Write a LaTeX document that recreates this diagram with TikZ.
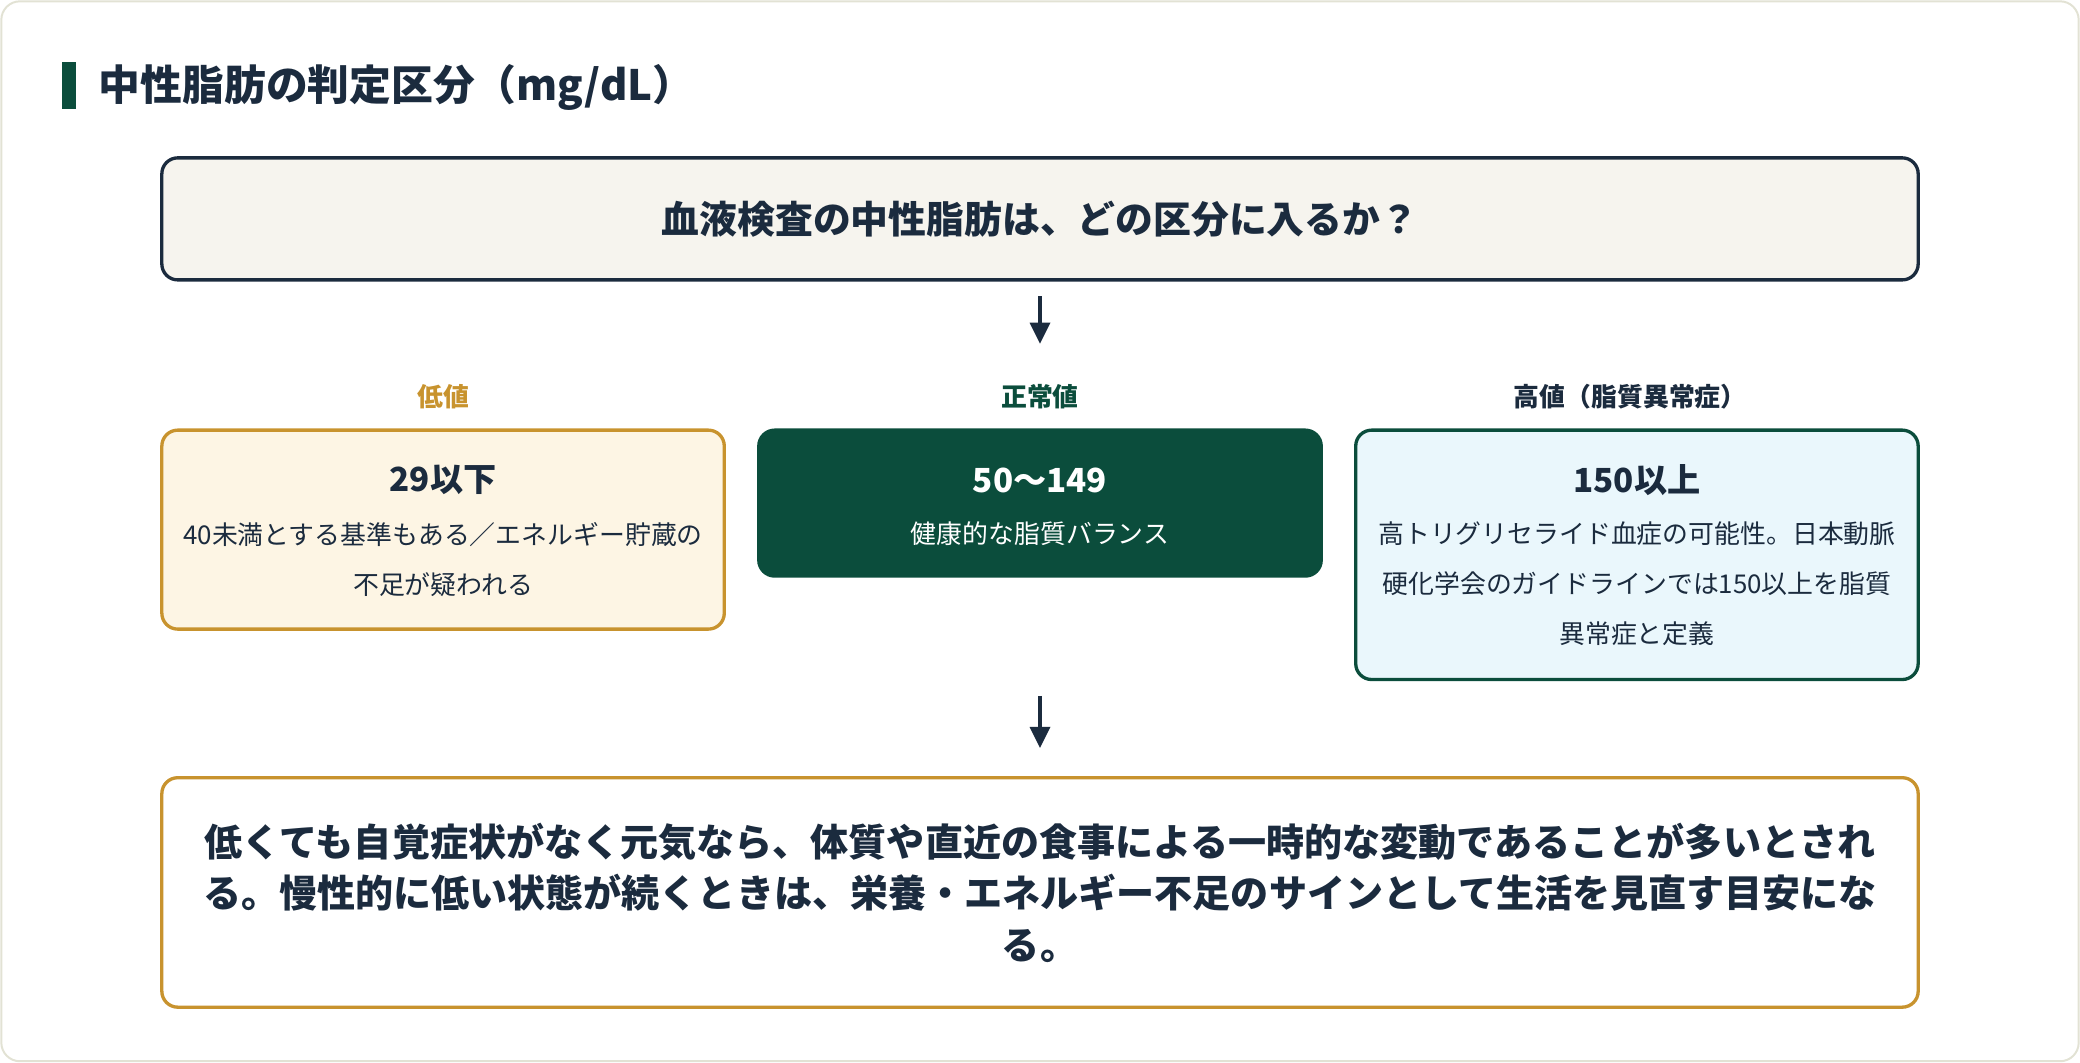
\documentclass[tikz,border=0pt]{standalone}
\usepackage{fontspec}
\setmainfont{Noto Sans CJK JP}
\usetikzlibrary{arrows.meta}

\definecolor{navy}{HTML}{1B2B3E}
\definecolor{dgreen}{HTML}{0B4D3C}
\definecolor{gold}{HTML}{C8932E}
\definecolor{cream}{HTML}{F6F4EE}
\definecolor{paleyel}{HTML}{FDF5E4}
\definecolor{paleblue}{HTML}{EAF7FC}
\definecolor{frame}{HTML}{E2E2D4}

\tikzset{
  box/.style={draw, line width=2.5pt, rounded corners=12pt, inner sep=0pt},
  lbl/.style={font=\bfseries\fontsize{19.5}{22}\selectfont},
  head/.style={font=\bfseries\fontsize{25}{28}\selectfont},
  body/.style={font=\fontsize{19.5}{37.5}\selectfont, align=center},
  arr/.style={navy, line width=2.8pt, -{Triangle[length=16pt,width=15pt]}}
}

\begin{document}
\begin{tikzpicture}[x=1pt,y=-1pt]

\useasboundingbox (0,0) rectangle (1568,801);
\draw[frame, line width=1.5pt, rounded corners=14pt] (1,1) rectangle (1567,800);

% title
\fill[dgreen] (47,47) rectangle (57,82);
\node[anchor=west, navy, font=\bfseries\fontsize{31.5}{34}\selectfont] (title) at (71,66) {中性脂肪の判定区分（mg/dL）};

% question
\node[box, navy, fill=cream, minimum width=1324pt, minimum height=92pt] (q) at (784,165)
  {\bfseries\fontsize{28.5}{32}\selectfont 血液検査の中性脂肪は、どの区分に入るか？};

% column labels
\node[lbl, gold] (llow) at (334,299) {低値};
\node[lbl, dgreen] (lmid) at (784,299) {正常値};
\node[lbl, navy] (lhigh) at (1229,299) {高値（脂質異常症）};

% three boxes
\node[box, gold, fill=paleyel, minimum width=424pt, minimum height=150pt, anchor=north] (low) at (334,323) {};
\node[head, navy] at (334,362) {29以下};
\node[body, navy] at (334,422) {40未満とする基準もある／エネルギー貯蔵の\\不足が疑われる};

\node[box, dgreen, fill=dgreen, minimum width=424pt, minimum height=110pt, anchor=north] (mid) at (784,323) {};
\node[head, white] at (784,362) {50〜149};
\node[body, white] at (784,402) {健康的な脂質バランス};

\node[box, dgreen, fill=paleblue, minimum width=424pt, minimum height=188pt, anchor=north] (high) at (1234,323) {};
\node[head, navy] at (1234,362) {150以上};
\node[body, navy] at (1234,440) {高トリグリセライド血症の可能性。日本動脈\\硬化学会のガイドラインでは150以上を脂質\\異常症と定義};

% conclusion
\node[box, gold, fill=white, minimum width=1324pt, minimum height=173pt, anchor=north] (res) at (784,585) {};
\node[navy, align=center, font=\bfseries\fontsize{28.7}{39}\selectfont] at (784,673)
  {低くても自覚症状がなく元気なら、体質や直近の食事による一時的な変動であることが多いとされ\\る。慢性的に低い状態が続くときは、栄養・エネルギー不足のサインとして生活を見直す目安にな\\る。};

% arrows
\draw[arr, shorten <=11pt, shorten >=27pt] (q.south) -- (lmid.north);
\draw[arr, shorten <=89pt, shorten >=21pt] (mid.south) -- (res.north);

\end{tikzpicture}
\end{document}
